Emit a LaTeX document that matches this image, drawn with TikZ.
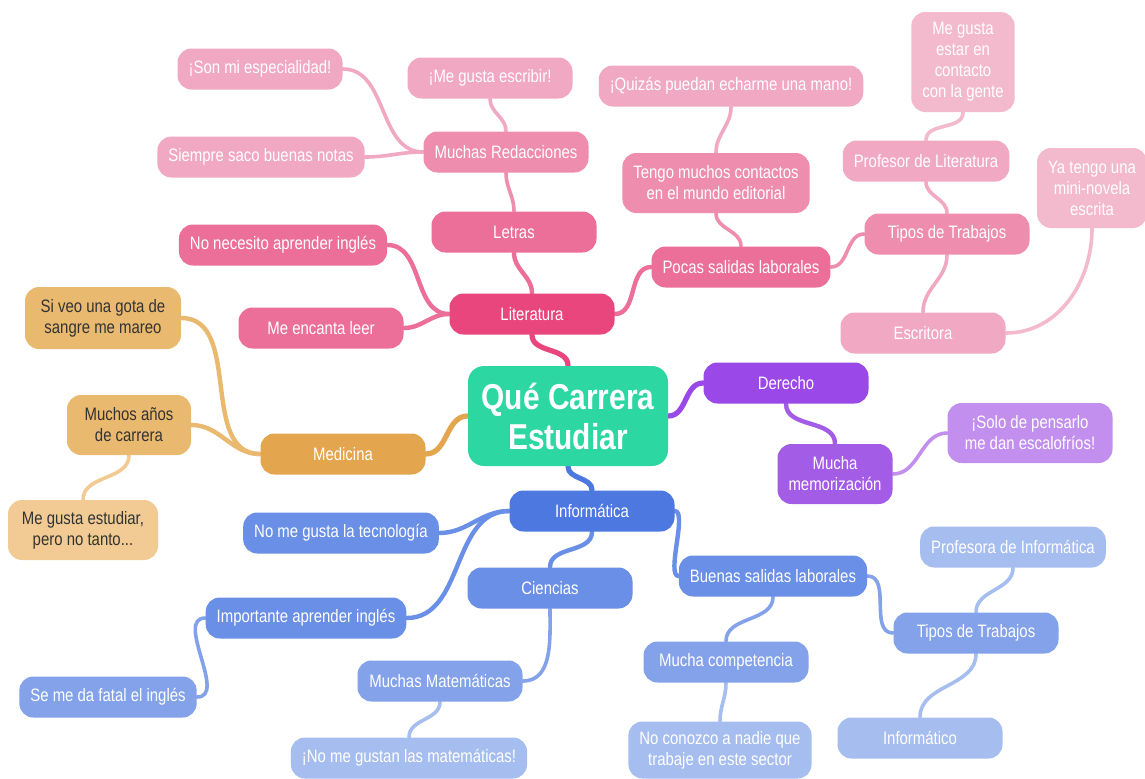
\documentclass[tikz,border=0pt]{standalone}
\usepackage{fontspec}
\usetikzlibrary{backgrounds}
\newfontfamily\mapfont[FakeStretch=0.83]{Liberation Sans}

\definecolor{rootc}{HTML}{2DD7A2}
\definecolor{litA}{HTML}{E8467C}
\definecolor{litB}{HTML}{EB6F98}
\definecolor{litC}{HTML}{EE8DAE}
\definecolor{litD}{HTML}{F1A8C2}
\definecolor{litE}{HTML}{F3B9CD}
\definecolor{derA}{HTML}{9A48E8}
\definecolor{derB}{HTML}{A35CE6}
\definecolor{derC}{HTML}{C28FEF}
\definecolor{medA}{HTML}{E3A54D}
\definecolor{medB}{HTML}{E9B96F}
\definecolor{medC}{HTML}{F1CB93}
\definecolor{infA}{HTML}{4C78DF}
\definecolor{infB}{HTML}{6A8FE6}
\definecolor{infC}{HTML}{84A2EA}
\definecolor{infD}{HTML}{A6BDF0}

\begin{document}
\begin{tikzpicture}[
    x=0.5pt, y=0.5pt,
    bub/.style={rectangle, rounded corners=7pt, minimum width=82.5pt, minimum height=20.5pt, inner xsep=5.5pt, inner ysep=2pt, align=center, text=white, font=\mapfont\fontsize{9}{10.5}\selectfont},
    root/.style={bub, fill=rootc, minimum width=100pt, minimum height=50pt, rounded corners=8pt, font=\mapfont\bfseries\fontsize{18}{20}\selectfont},
    lit1/.style={bub, fill=litA},
    lit2/.style={bub, fill=litB},
    lit3/.style={bub, fill=litC},
    lit4/.style={bub, fill=litD},
    lit5/.style={bub, fill=litE},
    der1/.style={bub, fill=derA},
    der2/.style={bub, fill=derB},
    der3/.style={bub, fill=derC},
    med1/.style={bub, fill=medA},
    med2/.style={bub, fill=medB, text=black!80},
    med3/.style={bub, fill=medC, text=black!80},
    inf1/.style={bub, fill=infA},
    inf2/.style={bub, fill=infB},
    inf3/.style={bub, fill=infC},
    inf4/.style={bub, fill=infD},
    w1/.style={line width=2.6pt, line cap=round},
    w2/.style={line width=2.2pt, line cap=round},
    w3/.style={line width=1.8pt, line cap=round}
]
    \useasboundingbox (0,0) rectangle (1145,-778);

    \node[root] (root) at (568,-416) {Qué Carrera\\Estudiar};

    % Literatura
    \node[lit1] (lit) at (532,-314) {Literatura};
    \node[lit2] (letras) at (514,-232) {Letras};
    \node[lit3] (redac) at (506,-152) {Muchas Redacciones};
    \node[lit4] (escribir) at (490,-78) {¡Me gusta escribir!};
    \node[lit4] (especial) at (260,-69) {¡Son mi especialidad!};
    \node[lit4] (notas) at (261,-157) {Siempre saco buenas notas};
    \node[lit2] (ingles) at (283,-245) {No necesito aprender inglés};
    \node[lit2] (leer) at (321,-328) {Me encanta leer};
    \node[lit2] (pocas) at (741,-267) {Pocas salidas laborales};
    \node[lit3, minimum height=30pt] (contactos) at (716,-183) {Tengo muchos contactos\\en el mundo editorial};
    \node[lit4] (mano) at (731,-86) {¡Quizás puedan echarme una mano!};
    \node[lit3] (tipos) at (947,-234) {Tipos de Trabajos};
    \node[lit4] (profe) at (926,-161) {Profesor de Literatura};
    \node[lit5, minimum width=51pt, minimum height=50pt] (gente) at (963,-62) {Me gusta\\estar en\\contacto\\con la gente};
    \node[lit4] (escritora) at (923,-333) {Escritora};
    \node[lit5, minimum width=53pt, minimum height=40pt] (novela) at (1092,-188) {Ya tengo una\\mini-novela\\escrita};

    % Derecho
    \node[der1] (derecho) at (786,-383) {Derecho};
    \node[der2, minimum width=57pt, minimum height=30pt] (memo) at (835,-474) {Mucha\\memorización};
    \node[der3, minimum height=30pt] (escalofrios) at (1030,-433) {¡Solo de pensarlo\\me dan escalofríos!};

    % Medicina
    \node[med1] (medicina) at (343,-454) {Medicina};
    \node[med2, minimum width=62pt, minimum height=30pt] (anos) at (129,-425) {Muchos años\\de carrera};
    \node[med2, minimum width=78pt, minimum height=31pt] (sangre) at (103,-318) {Si veo una gota de\\sangre me mareo};
    \node[med3, minimum width=75pt, minimum height=30pt] (estudiar) at (83,-530) {Me gusta estudiar,\\pero no tanto...};

    % Informatica
    \node[inf1] (info) at (592,-511) {Informática};
    \node[inf2] (tecno) at (341,-533) {No me gusta la tecnología};
    \node[inf2] (ciencias) at (550,-588) {Ciencias};
    \node[inf2] (importante) at (306,-618) {Importante aprender inglés};
    \node[inf3] (fatal) at (108,-697) {Se me da fatal el inglés};
    \node[inf3] (mates) at (440,-681) {Muchas Matemáticas};
    \node[inf4] (nomates) at (409,-758) {¡No me gustan las matemáticas!};
    \node[inf2] (buenas) at (773,-576) {Buenas salidas laborales};
    \node[inf3] (compet) at (726,-662) {Mucha competencia};
    \node[inf4, minimum height=28.5pt] (nadie) at (720,-750) {No conozco a nadie que\\trabaje en este sector};
    \node[inf3] (tiposb) at (976,-633) {Tipos de Trabajos};
    \node[inf4] (profesora) at (1013,-547) {Profesora de Informática};
    \node[inf4] (informatico) at (920,-738) {Informático};

    \begin{scope}[on background layer]
    \fill[white] (0,0) rectangle (1145,-778);

    \draw[w1, litA] (root.north) to[out=90, in=-90] (lit.south);
    \draw[w1, derA] (root.east) to[out=0, in=180] (derecho.west);
    \draw[w1, medA] (root.west) to[out=180, in=0] (medicina.east);
    \draw[w1, infA] (root.south) to[out=-90, in=90] (info.north);

    \draw[w2, litB] (lit.north) to[out=90, in=-90] (letras.south);
    \draw[w3, litC] (letras.north) to[out=90, in=-90] (redac.south);
    \draw[w3, litD] (redac.north) to[out=90, in=-90] (escribir.south);
    \draw[w3, litD] (redac.west) to[out=180, in=0] (especial.east);
    \draw[w3, litD] (redac.west) to[out=180, in=0] (notas.east);
    \draw[w2, litB] (lit.west) to[out=180, in=0] (ingles.east);
    \draw[w2, litB] (lit.west) to[out=180, in=0] (leer.east);
    \draw[w2, litB] (lit.east) to[out=0, in=180] (pocas.west);
    \draw[w3, litC] (pocas.north) to[out=90, in=-90] (contactos.south);
    \draw[w3, litD] (contactos.north) to[out=90, in=-90] (mano.south);
    \draw[w3, litC] (pocas.east) to[out=0, in=180] (tipos.west);
    \draw[w3, litD] (tipos.north) to[out=90, in=-90] (profe.south);
    \draw[w3, litE] (profe.north) to[out=90, in=-90] (gente.south);
    \draw[w3, litD] (tipos.south) to[out=-90, in=90] (escritora.north);
    \draw[w3, litE] (escritora.east) to[out=0, in=-90] (novela.south);

    \draw[w2, derB] (derecho.south) to[out=-90, in=90] (memo.north);
    \draw[w3, derC] (memo.east) to[out=0, in=180] (escalofrios.west);

    \draw[w2, medB] (medicina.west) to[out=180, in=0] (sangre.east);
    \draw[w2, medB] (medicina.west) to[out=180, in=0] (anos.east);
    \draw[w3, medC] (anos.south) to[out=-90, in=90] (estudiar.north);

    \draw[w2, infB] (info.west) to[out=180, in=0] (tecno.east);
    \draw[w2, infB] (info.west) to[out=180, in=0] (importante.east);
    \draw[w2, infB] (info.south) to[out=-90, in=90] (ciencias.north);
    \draw[w3, infC] (importante.west) to[out=180, in=0] (fatal.east);
    \draw[w3, infC] (ciencias.south) to[out=-90, in=0] (mates.east);
    \draw[w3, infD] (mates.south) to[out=-90, in=90] (nomates.north);
    \draw[w2, infB] (info.east) to[out=0, in=180, looseness=0.5] (buenas.west);
    \draw[w3, infC] (buenas.south) to[out=-90, in=90] (compet.north);
    \draw[w3, infD] (compet.south) to[out=-90, in=90] (nadie.north);
    \draw[w3, infC] (buenas.east) to[out=0, in=180] (tiposb.west);
    \draw[w3, infD] (tiposb.north) to[out=90, in=-90] (profesora.south);
    \draw[w3, infD] (tiposb.south) to[out=-90, in=90] (informatico.north);
    \end{scope}
\end{tikzpicture}
\end{document}
